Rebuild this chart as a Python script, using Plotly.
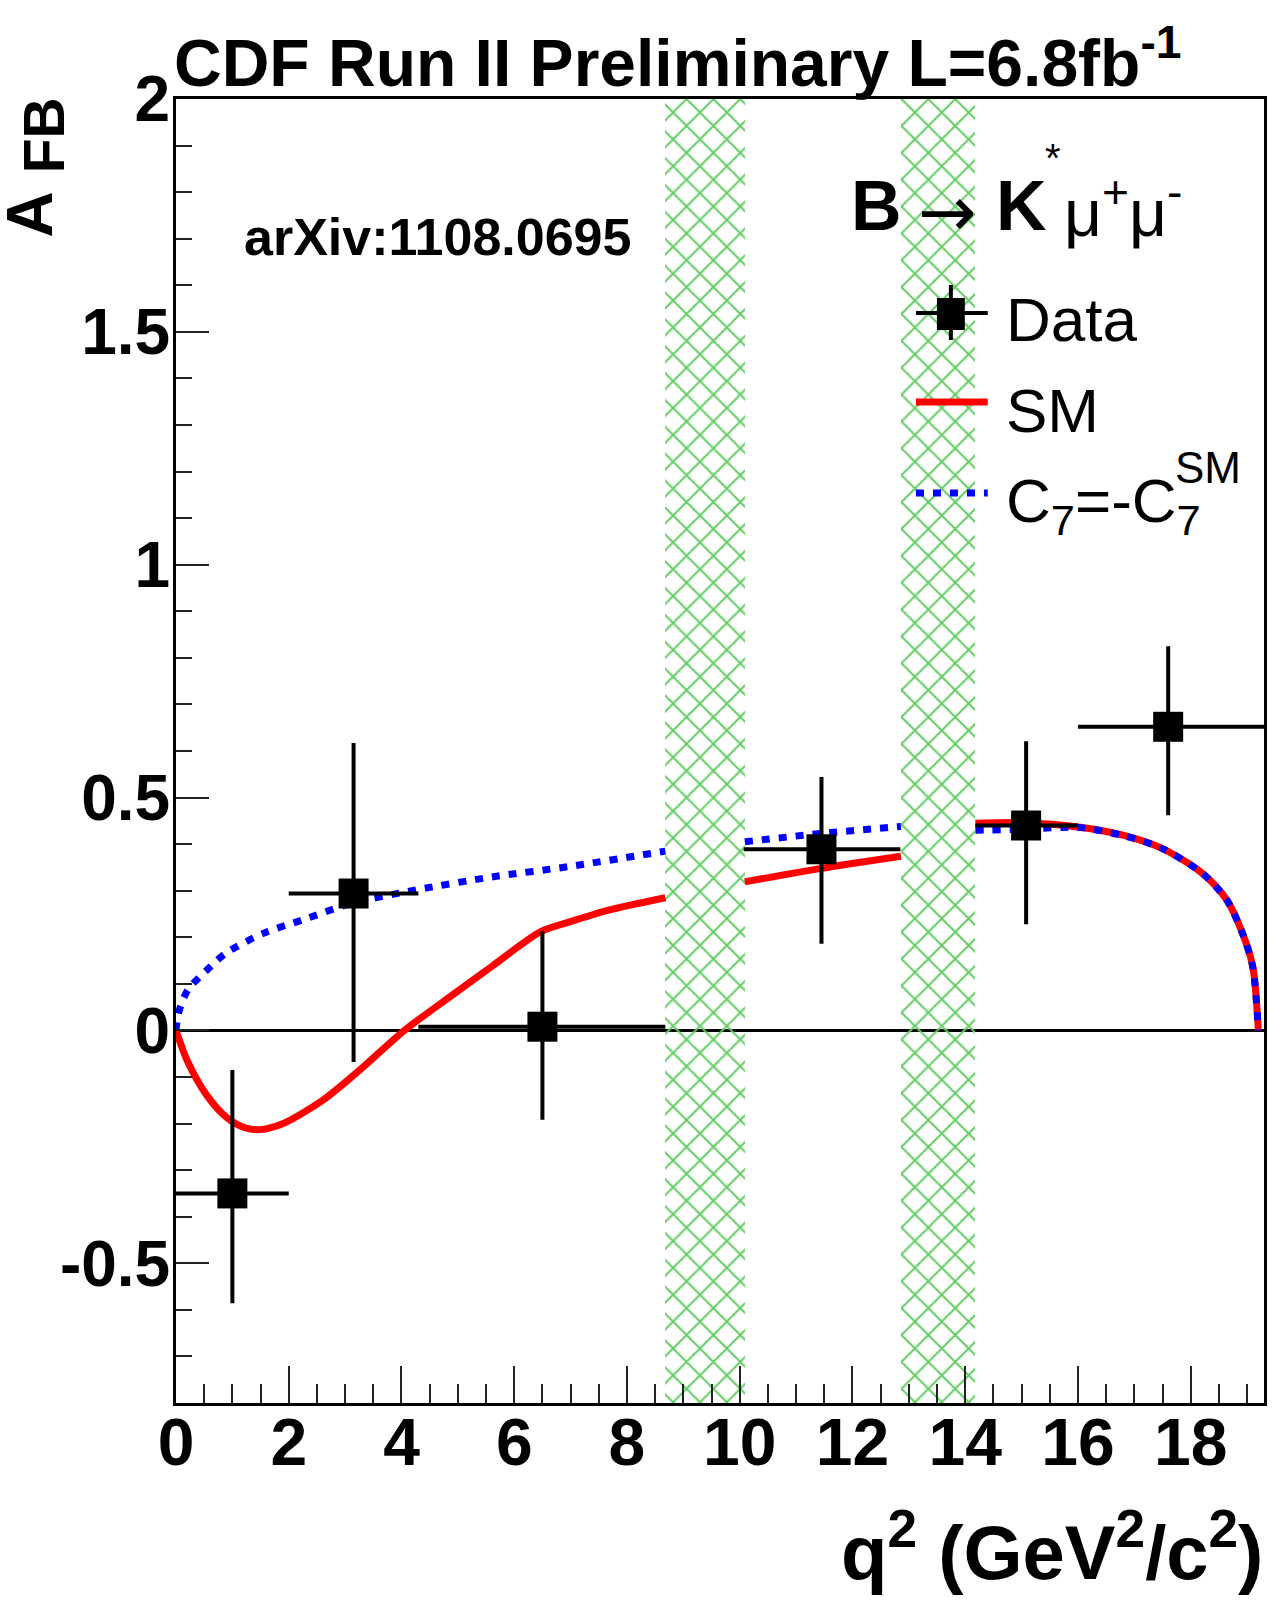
import plotly.graph_objects as go

# ---------------- data ----------------
bin_x = [1.0, 3.15, 6.5, 11.45, 15.08, 17.6]
bin_xlo = [1.0, 1.15, 2.2, 1.38, 0.9, 1.6]
bin_xhi = [1.0, 1.15, 2.18, 1.4, 0.92, 1.7]
afb = [-0.35, 0.294, 0.008, 0.389, 0.44, 0.652]
afb_up = [0.265, 0.323, 0.205, 0.155, 0.181, 0.173]
afb_dn = [0.236, 0.362, 0.2, 0.203, 0.212, 0.19]

sm_x1 = [0, 0.2, 0.55, 0.9, 1.22, 1.5, 1.9, 2.58, 3.26, 4.05, 4.95, 5.63, 6.47, 6.98, 7.66, 8.68]
sm_y1 = [0, -0.065, -0.14, -0.187, -0.209, -0.213, -0.2, -0.152, -0.085, 0.0, 0.08, 0.14, 0.212, 0.233, 0.258, 0.285]
sm_x2 = [10.09, 11.45, 12.86]
sm_y2 = [0.319, 0.348, 0.374]
sm_x3 = [14.18, 15.06, 16.0, 16.78, 17.49, 18.21, 18.64, 18.92, 19.1, 19.2]
sm_y3 = [0.445, 0.446, 0.437, 0.42, 0.391, 0.337, 0.28, 0.208, 0.137, 0.0]

c7_x1 = [0, 0.05, 0.21, 0.55, 0.885, 1.56, 2.24, 3.12, 4.27, 5.63, 6.98, 8.68]
c7_y1 = [0, 0.04, 0.087, 0.13, 0.166, 0.209, 0.237, 0.273, 0.302, 0.33, 0.352, 0.385]
c7_x2 = [10.09, 11.45, 12.86]
c7_y2 = [0.405, 0.423, 0.438]
c7_x3 = [14.18, 15.06, 16.0, 16.78, 17.49, 18.21, 18.64, 18.92, 19.1, 19.2]
c7_y3 = [0.43, 0.432, 0.436, 0.419, 0.391, 0.337, 0.28, 0.208, 0.137, 0.0]

veto_lo = [8.68, 12.86]
veto_hi = [10.09, 14.18]

x_ticks = [0, 2, 4, 6, 8, 10, 12, 14, 16, 18]
y_ticks = [-0.5, 0, 0.5, 1, 1.5, 2]
y_ticktext = ["-0.5", "0", "0.5", "1", "1.5", "2"]

# ---------------- layout geometry ----------------
W_FIG, H_FIG = 1273, 1614
L, T, R, B = 176, 99, 6, 211
PW = W_FIG - L - R
PH = H_FIG - T - B


def px(X):
    return (X - L) / PW


def py(Y):
    return (T + PH - Y) / PH


FONT = "Liberation Sans, Arial, sans-serif"
RED = "#ff0000"
BLUE = "#0000ff"
GREEN = "rgb(100,205,100)"

fig = go.Figure()

# hatched veto bands
fig.add_trace(go.Bar(
    x=[(a + b) / 2 for a, b in zip(veto_lo, veto_hi)],
    y=[2.8, 2.8],
    base=[-0.8, -0.8],
    width=[b - a for a, b in zip(veto_lo, veto_hi)],
    marker=dict(color="rgba(0,0,0,0)", line=dict(width=0),
                pattern=dict(shape="x", size=19, solidity=0.2,
                             fgcolor=GREEN, bgcolor="rgba(0,0,0,0)",
                             fillmode="replace")),
    showlegend=False, hoverinfo="skip",
))

# SM curve
for xs, ys in [(sm_x1, sm_y1), (sm_x2, sm_y2), (sm_x3, sm_y3)]:
    fig.add_trace(go.Scatter(x=xs, y=ys, mode="lines",
                             line=dict(color=RED, width=7, shape="spline", smoothing=0.8),
                             showlegend=False, hoverinfo="skip"))
# C7 = -C7SM curve
for xs, ys in [(c7_x1, c7_y1), (c7_x2, c7_y2), (c7_x3, c7_y3)]:
    fig.add_trace(go.Scatter(x=xs, y=ys, mode="lines",
                             line=dict(color=BLUE, width=7, dash="8px,9px", shape="spline", smoothing=0.8),
                             showlegend=False, hoverinfo="skip"))

# data
fig.add_trace(go.Scatter(
    x=bin_x, y=afb, mode="markers",
    marker=dict(symbol="square", size=30, color="black"),
    error_x=dict(type="data", symmetric=False, array=bin_xhi, arrayminus=bin_xlo,
                 color="black", thickness=4, width=0),
    error_y=dict(type="data", symmetric=False, array=afb_up, arrayminus=afb_dn,
                 color="black", thickness=4, width=0),
    showlegend=False, hoverinfo="skip",
))

shapes = []
# legend keys (paper coords)
shapes.append(dict(type="line", xref="paper", yref="paper", x0=px(918), x1=px(990), y0=py(313), y1=py(313),
                   line=dict(color="black", width=4)))
shapes.append(dict(type="line", xref="paper", yref="paper", x0=px(953), x1=px(953), y0=py(285), y1=py(340),
                   line=dict(color="black", width=4)))
shapes.append(dict(type="rect", xref="paper", yref="paper", x0=px(939), x1=px(967), y0=py(298), y1=py(330),
                   fillcolor="black", line=dict(width=0)))
shapes.append(dict(type="line", xref="paper", yref="paper", x0=px(918), x1=px(990), y0=py(402), y1=py(402),
                   line=dict(color=RED, width=7)))
shapes.append(dict(type="line", xref="paper", yref="paper", x0=px(918), x1=px(990), y0=py(493), y1=py(493),
                   line=dict(color=BLUE, width=7, dash="8px,9px")))

ann = []


def add_text(text, X, Y, size, family=FONT, weight="normal", xanchor="center", yanchor="middle", angle=0,
             height=None):
    d = dict(text=text, x=px(X), y=py(Y), xref="paper", yref="paper",
             xanchor=xanchor, yanchor=yanchor, showarrow=False, textangle=angle,
             font=dict(family=family, size=size, color="black", weight=weight))
    if height is not None:
        d["height"] = height
    ann.append(d)


# title
add_text("CDF Run II Preliminary L=6.8fb<sup>-1</sup>", 172, 58, 66, weight="bold", xanchor="left")
# y title
add_text("A", 30, 214, 64, weight="bold", angle=-90, height=56)
add_text("FB", 44, 135, 57, weight="bold", angle=-90)
# x title
add_text("q<sup>2</sup> (GeV<sup>2</sup>/c<sup>2</sup>)", 1268, 1547, 76, weight="bold", xanchor="right")
# arXiv
add_text("arXiv:1108.0695", 438, 237, 52, weight="bold")
# process label
add_text("B", 878, 206, 70, weight="bold")
add_text("\u2192", 950, 212, 70, family="DejaVu Sans")
add_text("K", 1024, 206, 70, weight="bold")
add_text("*", 1055, 158, 40)
add_text("\u03bc<sup>+</sup>\u03bc<sup>-</sup>", 1064, 208, 66, xanchor="left")
# legend text
add_text("Data", 1006, 320, 62, xanchor="left")
add_text("SM", 1006, 411, 62, xanchor="left")
add_text("C<sub>7</sub>=-C<sub>7</sub>", 1006, 505, 62, xanchor="left")
add_text("SM", 1176, 468, 44, xanchor="left")

fig.update_layout(
    width=W_FIG, height=H_FIG,
    margin=dict(l=L, r=R, t=T, b=B, pad=0),
    paper_bgcolor="white", plot_bgcolor="white",
    barmode="overlay", bargap=0,
    shapes=shapes, annotations=ann,
    showlegend=False,
)
fig.update_xaxes(
    range=[0, 19.3], tickvals=x_ticks, ticks="inside", ticklen=37, tickwidth=2, tickcolor="#222",
    showline=True, linewidth=3, linecolor="black", mirror=True, showgrid=False, zeroline=False,
    ticklabelstandoff=-20,
    tickfont=dict(family=FONT, size=66, color="black", weight="bold"),
    minor=dict(dtick=0.5, ticks="inside", ticklen=19, tickwidth=2, tickcolor="#222", showgrid=False),
)
fig.update_yaxes(
    range=[-0.8, 2.0], tickvals=y_ticks, ticktext=y_ticktext, ticks="inside", ticklen=33, tickwidth=2,
    tickcolor="#222", showline=True, linewidth=3, linecolor="black", mirror=True, showgrid=False,
    zeroline=True, zerolinecolor="black", zerolinewidth=2.5, ticklabelstandoff=-10,
    tickfont=dict(family=FONT, size=64, color="black", weight="bold"),
    minor=dict(dtick=0.1, ticks="inside", ticklen=16, tickwidth=2, tickcolor="#222", showgrid=False),
)

fig.write_html("out.html")
